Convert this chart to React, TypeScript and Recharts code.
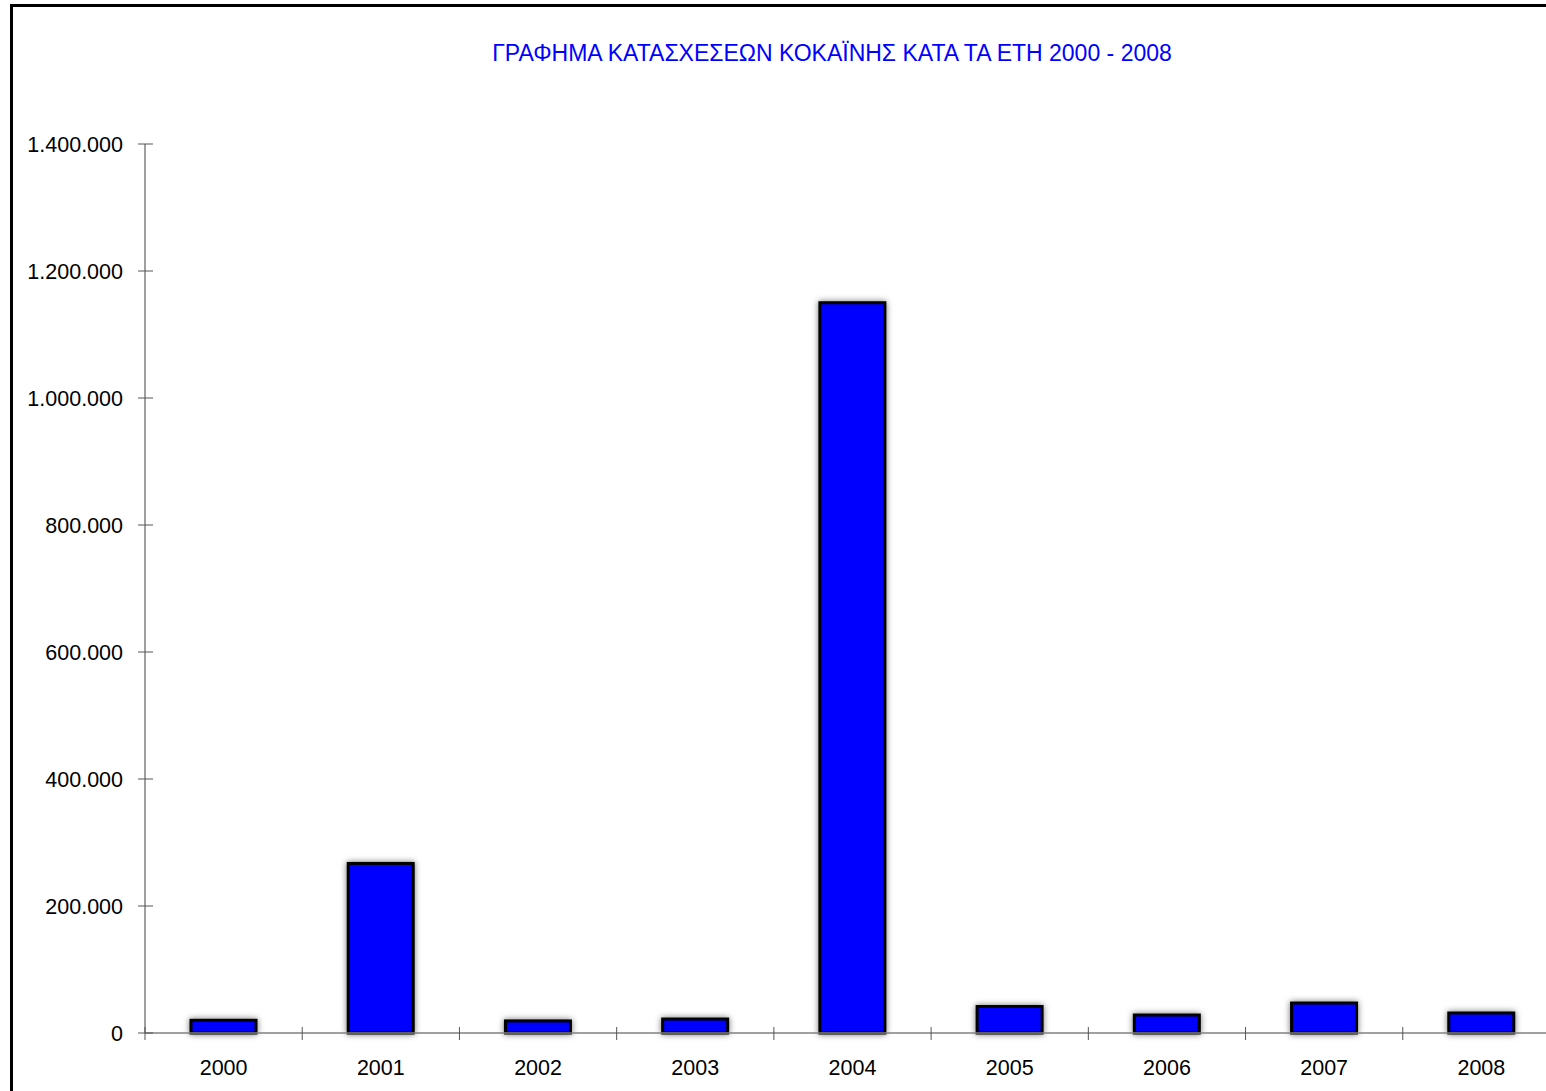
import React from "react";
import { BarChart, Bar, XAxis, YAxis } from "recharts";

const years = ["2000", "2001", "2002", "2003", "2004", "2005", "2006", "2007", "2008"];
const seizures = [20000, 267000, 19000, 22000, 1150000, 41700, 28300, 47200, 31500];
const yTicks = [0, 200000, 400000, 600000, 800000, 1000000, 1200000, 1400000];
const title = "ΓΡΑΦΗΜΑ ΚΑΤΑΣΧΕΣΕΩΝ ΚΟΚΑΪΝΗΣ ΚΑΤΑ ΤΑ ΕΤΗ 2000 - 2008";

const data = years.map((y, i) => ({ year: y, value: seizures[i] }));

const fmt = (v: number) => String(v).replace(/\B(?=(\d{3})+(?!\d))/g, ".");
const FONT = "'Liberation Sans', Arial, sans-serif";

const YTick = (props: any) => {
  const { x, y, payload } = props;
  return (
    <g>
      <line x1={x - 7} x2={x + 8} y1={y} y2={y} stroke="#555" strokeWidth={1} />
      <text x={x - 22} y={y} dy={8} textAnchor="end" fontSize={21.5} fontFamily={FONT} fill="#000">
        {fmt(payload.value)}
      </text>
    </g>
  );
};

const XTick = (props: any) => {
  const { x, y, payload, width, visibleTicksCount } = props;
  const band = width / visibleTicksCount;
  const bx = x - band / 2;
  return (
    <g>
      <line x1={bx} x2={bx} y1={y - 6} y2={y + 7} stroke="#555" strokeWidth={1} />
      <text x={x} y={y} dy={42} textAnchor="middle" fontSize={21.5} fontFamily={FONT} fill="#000">
        {payload.value}
      </text>
    </g>
  );
};

const BarShape = (props: any) => {
  const { x, y, width, height } = props;
  return (
    <rect
      x={x}
      y={y}
      width={width}
      height={height}
      fill="#0000FF"
      stroke="#000"
      strokeWidth={3}
      style={{ filter: "drop-shadow(0px 0px 3px rgba(0,0,0,0.55))" }}
    />
  );
};

export default function App() {
  return (
    <div style={{ position: "absolute", left: 0, top: 0, width: 1546, height: 1091, overflow: "hidden", background: "#fff" }}>
      <div
        style={{
          position: "absolute",
          left: 10,
          top: 4,
          width: 1600,
          height: 1200,
          borderLeft: "3px solid #000",
          borderTop: "3px solid #000",
        }}
      />
      <div
        style={{
          position: "absolute",
          left: 0,
          top: 39,
          width: 1664,
          textAlign: "center",
          fontFamily: FONT,
          fontSize: 23,
          lineHeight: "28px",
          color: "#0000FF",
          whiteSpace: "nowrap",
        }}
      >
        {title}
      </div>
      <div style={{ position: "absolute", left: 0, top: 0 }}>
        <BarChart
          width={1600}
          height={1091}
          data={data}
          margin={{ top: 144, right: 40, left: 0, bottom: 0 }}
          barCategoryGap={46}
        >
          <XAxis
            dataKey="year"
            axisLine={{ stroke: "#808080", strokeWidth: 1.5 }}
            tickLine={false}
            tickSize={0}
            tickMargin={0}
            tick={<XTick />}
            interval={0}
            height={58}
          />
          <YAxis
            domain={[0, 1400000]}
            ticks={yTicks}
            width={145}
            axisLine={{ stroke: "#808080", strokeWidth: 1.5 }}
            tickLine={false}
            tickSize={0}
            tickMargin={0}
            tick={<YTick />}
            interval={0}
          />
          <Bar dataKey="value" barSize={65} isAnimationActive={false} shape={<BarShape />} />
        </BarChart>
      </div>
    </div>
  );
}
